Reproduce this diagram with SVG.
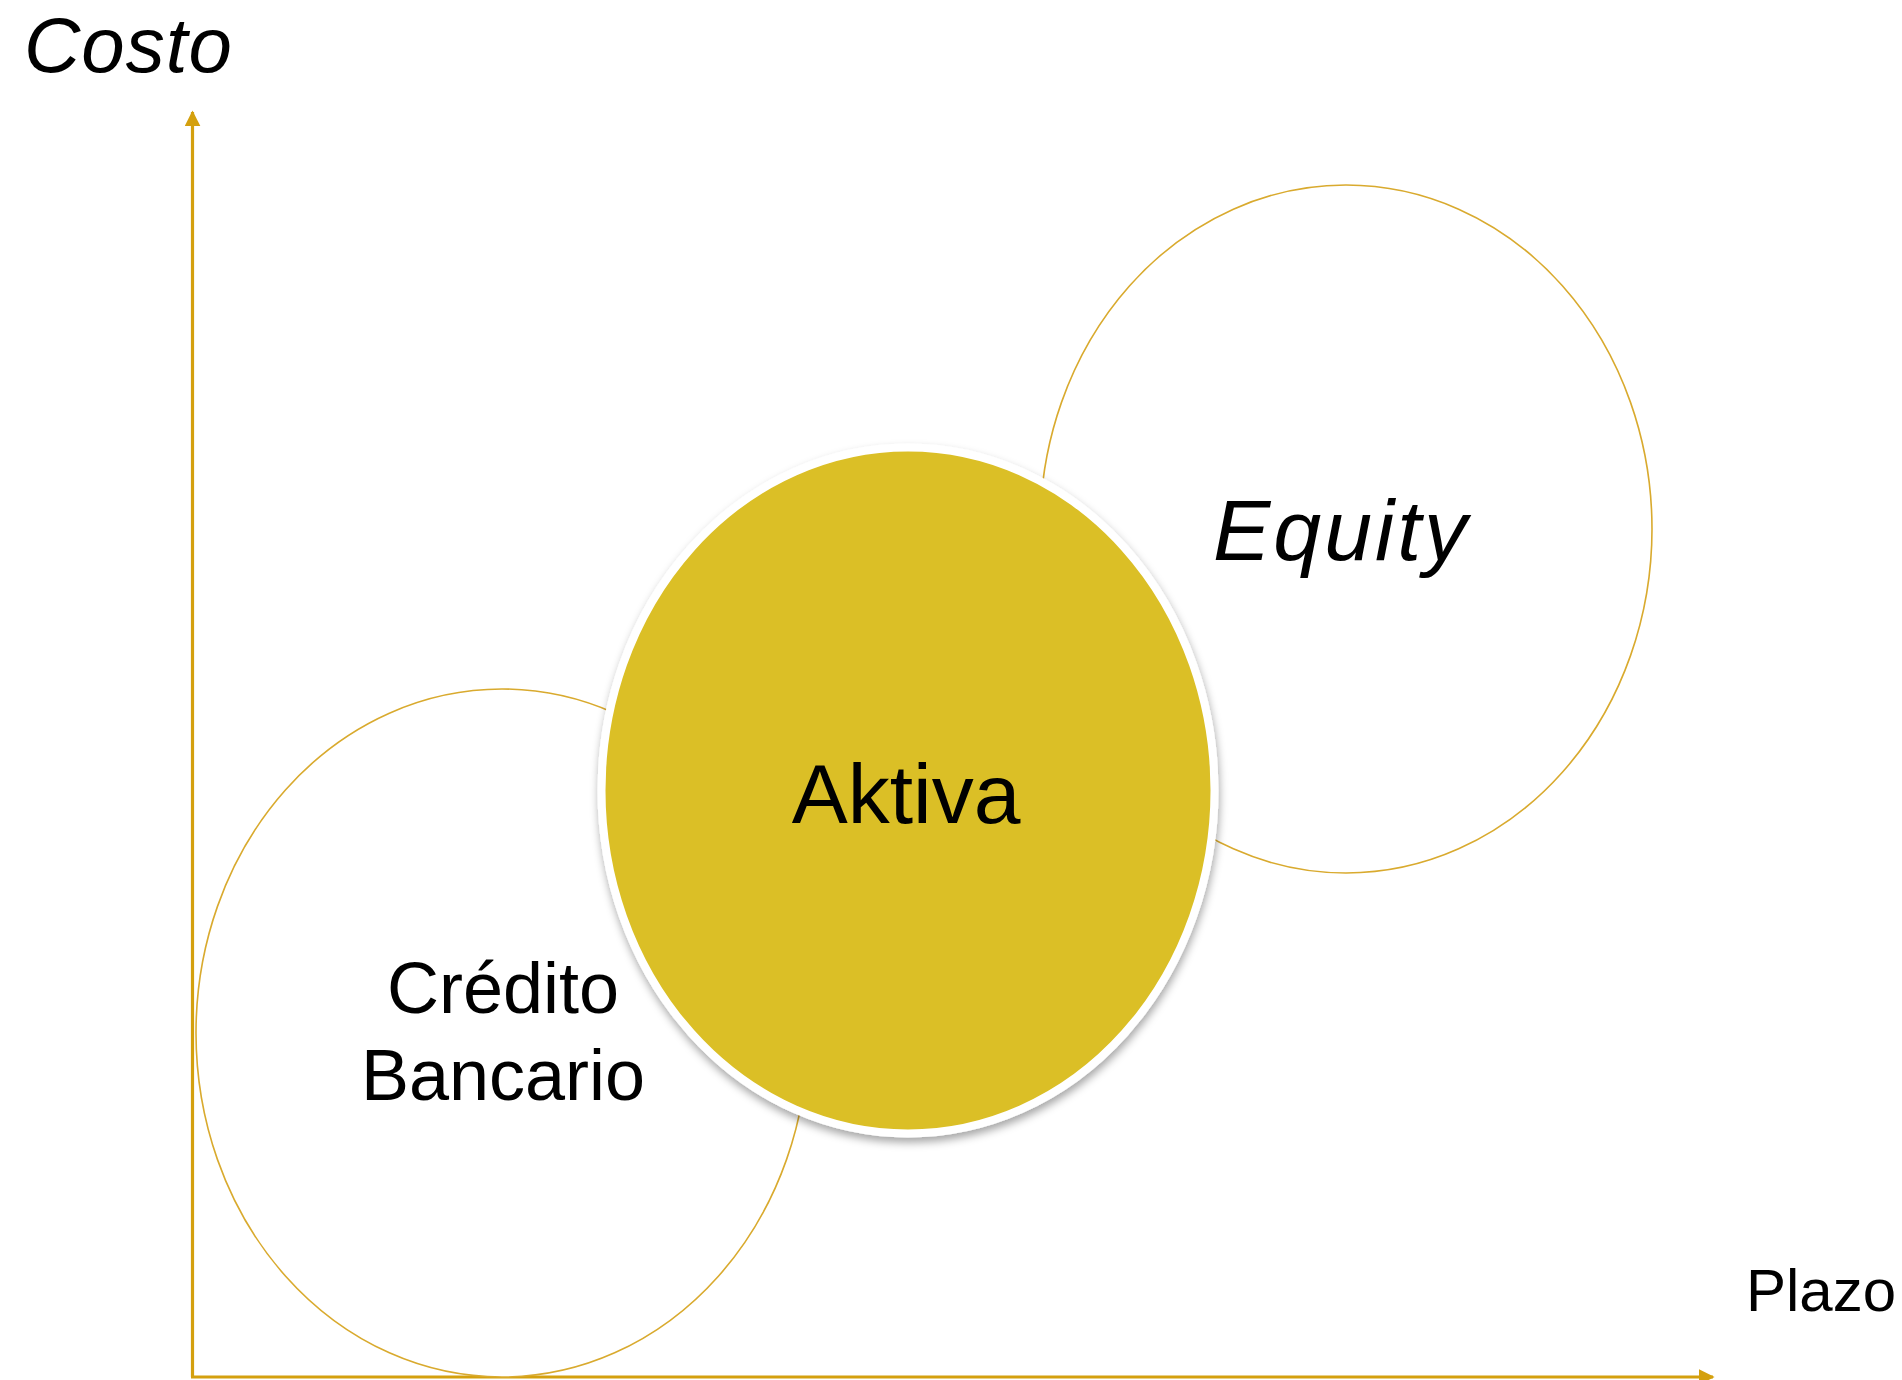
<svg xmlns="http://www.w3.org/2000/svg" width="1902" height="1380" viewBox="0 0 1902 1380">
<defs>
<style>
.axis{stroke:#D4A00E;stroke-width:3.2;fill:none}
.outline{fill:#FFFFFF;stroke:#D9AA2E;stroke-width:1.6}
.lbl{font-family:"Liberation Sans",Arial,sans-serif;fill:#000}
</style>
<marker id="arr" viewBox="0 0 10 10" refX="9" refY="5" markerWidth="5" markerHeight="5" markerUnits="strokeWidth" orient="auto">
<path d="M0,0 L10,5 L0,10 z" fill="#D4A00E"/>
</marker>
<filter id="sh" x="-10%" y="-10%" width="120%" height="125%">
<feDropShadow dx="1" dy="5" stdDeviation="4" flood-color="#000" flood-opacity="0.35"/>
</filter>
</defs>
<rect width="1902" height="1380" fill="#FFFFFF"/>
<g id="connectors">
<line class="axis" x1="192.5" y1="1377" x2="192.5" y2="112" marker-end="url(#arr)"/>
<line class="axis" x1="191" y1="1377" x2="1713" y2="1377" marker-end="url(#arr)"/>
</g>
<g id="credito">
<ellipse class="outline" cx="502" cy="1033" rx="306" ry="344"/>
<text class="lbl" x="503" y="1013" font-size="72" text-anchor="middle">Crédito</text>
<text class="lbl" x="503" y="1100" font-size="72" text-anchor="middle">Bancario</text>
</g>
<g id="equity">
<ellipse class="outline" cx="1346" cy="529" rx="306" ry="344"/>
<text class="lbl" x="1213" y="560" font-size="86" font-style="italic" letter-spacing="3">Equity</text>
</g>
<g id="aktiva">
<ellipse cx="908" cy="790.5" rx="306.5" ry="343" fill="#DBBF26" stroke="#FFFFFF" stroke-width="8" filter="url(#sh)"/>
<text class="lbl" x="906" y="823" font-size="84" text-anchor="middle">Aktiva</text>
</g>
<g id="axis-labels">
<text class="lbl" x="24" y="72" font-size="78" font-style="italic" letter-spacing="1">Costo</text>
<text class="lbl" x="1746" y="1311" font-size="60">Plazo</text>
</g>
</svg>
